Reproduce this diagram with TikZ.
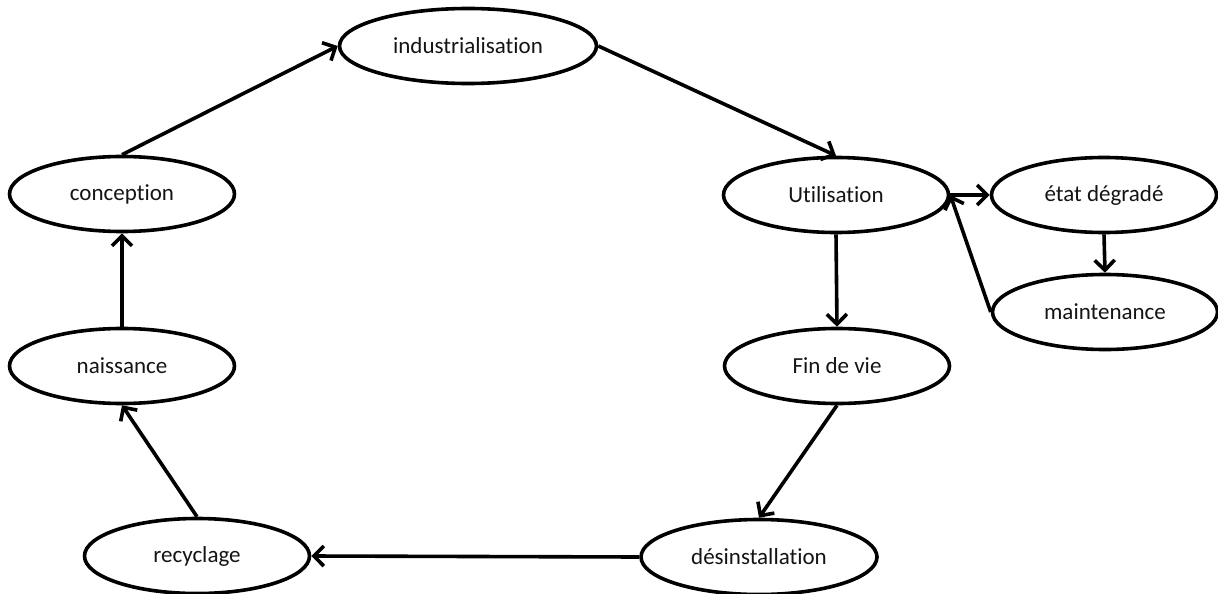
\documentclass[tikz,border=0pt]{standalone}
\usepackage{fontspec}
\setmainfont{Carlito}[Ligatures={NoCommon}]
\usetikzlibrary{shapes.geometric,arrows.meta}
\begin{document}
\begin{tikzpicture}[x=1pt,y=-1pt,
  etat/.style={draw=black, line width=3.6pt, ellipse, inner sep=0pt,
    minimum width=225pt, minimum height=75pt, font=\fontsize{23}{27}\selectfont, text=black!92},
  lien/.style={line width=3.6pt, -{Straight Barb[length=10pt,width=20pt,line width=3.6pt]}}
]
\useasboundingbox (0,0) rectangle (1218,594);
\node[etat, minimum width=257pt] (indus) at (468,46) {industrialisation};
\node[etat] (concep) at (122,194) {conception};
\node[etat] (naiss) at (122,366) {naissance};
\node[etat] (recyc) at (197,556) {recyclage};
\node[etat, minimum width=236pt] (desin) at (759,557) {désinstallation};
\node[etat] (fin) at (837,366) {Fin de vie};
\node[etat] (util) at (836,195) {Utilisation};
\node[etat] (degr) at (1104,195) {état dégradé};
\node[etat] (maint) at (1105,312) {maintenance};

\draw[lien] (concep.north) -- (indus.west);
\draw[lien] (indus.east) -- (util.north);
\draw[lien] (util.south) -- (fin.north);
\draw[lien] (util.east) -- (degr.west);
\draw[lien] (degr.south) -- (maint.north);
\draw[lien] (maint.west) -- (util.east);
\draw[lien] (fin.south) -- (desin.north);
\draw[lien] (desin.west) -- (recyc.east);
\draw[lien] (recyc.north) -- (naiss.south);
\draw[lien] (naiss.north) -- (concep.south);
\end{tikzpicture}
\end{document}
